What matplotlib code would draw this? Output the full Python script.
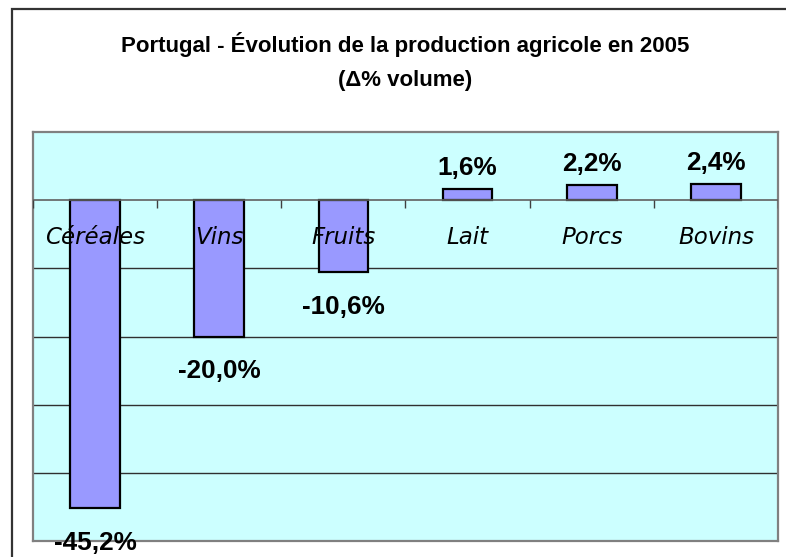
import matplotlib
matplotlib.use("Agg")
import matplotlib.pyplot as plt
from matplotlib.patches import Rectangle

categories = ["Céréales", "Vins", "Fruits", "Lait", "Porcs", "Bovins"]
values = [-45.2, -20.0, -10.6, 1.6, 2.2, 2.4]
value_labels = ["-45,2%", "-20,0%", "-10,6%", "1,6%", "2,2%", "2,4%"]
grid_levels = [-10, -20, -30, -40]

fig = plt.figure(figsize=(7.86, 5.57), dpi=100)
fig.patch.set_facecolor("white")

# outer frame (only left and top edges visible in the original crop)
fig.patches.append(Rectangle((12 / 786, -0.2), 1.2, 0.2 + (1 - 9 / 557),
                             transform=fig.transFigure, fill=False,
                             edgecolor="#333333", linewidth=1.6, clip_on=False))

ax = fig.add_axes([33 / 786, 1 - 541 / 557, (778 - 33) / 786, (541 - 132) / 557])
ax.set_facecolor("#CCFFFF")
ax.set_xlim(-0.5, len(categories) - 0.5)
ax.set_ylim(-50, 10)

for g in grid_levels:
    ax.axhline(g, color="#303030", linewidth=1.0, zorder=1)
ax.axhline(0, color="#606060", linewidth=1.2, zorder=4)

x = list(range(len(categories)))
ax.bar(x, values, width=0.4, color="#9999FF", edgecolor="black",
       linewidth=1.6, zorder=3)

# small tick marks under the zero line, between categories
bounds = [i - 0.5 for i in range(len(categories) + 1)]
ax.vlines(bounds, -1.1, 0, color="#404040", linewidth=1.0, zorder=4)

for i, cat in enumerate(categories):
    ax.annotate(cat, (i, 0), xytext=(0, -27), textcoords="offset points",
                ha="center", va="center", fontsize=16.5, style="italic",
                family="DejaVu Sans", zorder=6)

for i, (v, lab) in enumerate(zip(values, value_labels)):
    off = -25 if v < 0 else 15
    ax.annotate(lab, (i, v), xytext=(0, off), textcoords="offset points",
                ha="center", va="center", fontsize=18.8, fontweight="bold",
                family="Liberation Sans", zorder=6, annotation_clip=False)

ax.set_xticks([])
ax.set_yticks([])
for s in ax.spines.values():
    s.set_color("#808080")
    s.set_linewidth(1.6)

fig.text(405 / 786, 1 - 52 / 557, "Portugal - Évolution de la production agricole en 2005",
         ha="center", va="baseline", fontsize=16, fontweight="bold",
         family="Liberation Sans")
fig.text(405 / 786, 1 - 86 / 557, "(Δ% volume)",
         ha="center", va="baseline", fontsize=16, fontweight="bold",
         family="Liberation Sans")

fig.savefig("out.png", dpi=100)
